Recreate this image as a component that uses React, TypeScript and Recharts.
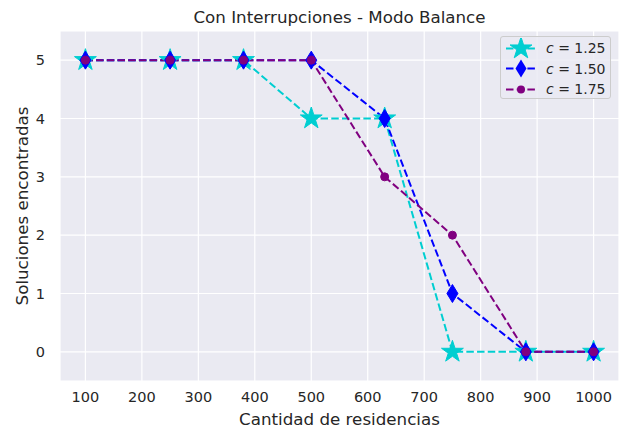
import React from 'react';
import { LineChart, Line, XAxis, YAxis, CartesianGrid } from 'recharts';

const residencias = [100, 250, 380, 500, 630, 750, 880, 1000];
const c125 = [5, 5, 5, 4, 4, 0, 0, 0];
const c150 = [5, 5, 5, 5, 4, 1, 0, 0];
const c175 = [5, 5, 5, 5, 3, 2, 0, 0];
const xTicks = [100, 200, 300, 400, 500, 600, 700, 800, 900, 1000];
const yTicks = [0, 1, 2, 3, 4, 5];

const CYAN = '#00CED1';
const BLUE = '#0000FF';
const PURPLE = '#800080';
const TEXT = '#262626';
const FONT = '"DejaVu Sans", sans-serif';
const DASH = '7.5 3.2';

const data = residencias.map((x, i) => ({ x, a: c125[i], b: c150[i], c: c175[i] }));

function starPath(cx: number, cy: number, R: number) {
  const r = R * 0.382;
  let d = '';
  for (let k = 0; k < 10; k++) {
    const ang = -Math.PI / 2 + (k * Math.PI) / 5;
    const rad = k % 2 === 0 ? R : r;
    d += (k === 0 ? 'M' : 'L') + (cx + rad * Math.cos(ang)).toFixed(2) + ',' + (cy + rad * Math.sin(ang)).toFixed(2);
  }
  return d + 'Z';
}

const diamondPath = (cx: number, cy: number) => `M${cx},${cy - 9}L${cx + 5.5},${cy}L${cx},${cy + 9}L${cx - 5.5},${cy}Z`;

const Star = (p: any) => (p.cx == null ? null : <path key={p.index} d={starPath(p.cx, p.cy, 11.5)} fill={CYAN} stroke={CYAN} strokeWidth={1} />);
const Diamond = (p: any) => (p.cx == null ? null : <path key={p.index} d={diamondPath(p.cx, p.cy)} fill={BLUE} stroke={BLUE} strokeWidth={1} />);
const Dot = (p: any) => (p.cx == null ? null : <circle key={p.index} cx={p.cx} cy={p.cy} r={4} fill={PURPLE} stroke={PURPLE} />);

const legendRows = [
  { label: '1.25', color: CYAN, marker: (cx: number, cy: number) => <path d={starPath(cx, cy, 11.5)} fill={CYAN} stroke={CYAN} /> },
  { label: '1.50', color: BLUE, marker: (cx: number, cy: number) => <path d={diamondPath(cx, cy)} fill={BLUE} /> },
  { label: '1.75', color: PURPLE, marker: (cx: number, cy: number) => <circle cx={cx} cy={cy} r={4} fill={PURPLE} /> },
];

function LegendBox() {
  return (
    <div style={styles.legend}>
      {legendRows.map(r => (
        <div key={r.label} style={styles.legendRow}>
          <svg width={32} height={21} style={{ display: 'block' }}>
            <line x1={1} y1={10.5} x2={31} y2={10.5} stroke={r.color} strokeWidth={2} strokeDasharray={DASH} />
            {r.marker(16, 10.5)}
          </svg>
          <span style={styles.legendText}>
            <i>c</i> = {r.label}
          </span>
        </div>
      ))}
    </div>
  );
}

export default function App() {
  return (
    <div style={styles.wrap}>
      <div style={styles.title}>Con Interrupciones - Modo Balance</div>
      <div style={styles.xLabel}>Cantidad de residencias</div>
      <div style={styles.yLabel}>Soluciones encontradas</div>
      <LineChart width={623} height={429} data={data} margin={{ top: 31, right: 4, bottom: 0, left: 0 }}>
        <CartesianGrid fill="#EAEAF2" stroke="#FFFFFF" strokeWidth={1.2} />
        <XAxis
          dataKey="x"
          type="number"
          domain={[55, 1045]}
          ticks={xTicks}
          axisLine={false}
          tickLine={false}
          tickSize={0}
          tickMargin={11}
          height={48}
          tick={{ fill: TEXT, fontSize: 14.5, fontFamily: FONT }}
        />
        <YAxis
          type="number"
          domain={[-0.5, 5.5]}
          ticks={yTicks}
          axisLine={false}
          tickLine={false}
          tickSize={0}
          tickMargin={15}
          width={60}
          tick={{ fill: TEXT, fontSize: 14.5, fontFamily: FONT }}
        />
        <Line dataKey="a" stroke={CYAN} strokeWidth={2} strokeDasharray={DASH} dot={Star} activeDot={false} isAnimationActive={false} />
        <Line dataKey="b" stroke={BLUE} strokeWidth={2} strokeDasharray={DASH} dot={Diamond} activeDot={false} isAnimationActive={false} />
        <Line dataKey="c" stroke={PURPLE} strokeWidth={2} strokeDasharray={DASH} dot={Dot} activeDot={false} isAnimationActive={false} />
      </LineChart>
      <LegendBox />
    </div>
  );
}

const styles: Record<string, React.CSSProperties> = {
  wrap: { position: 'absolute', left: 0, top: 0, width: 623, height: 429, background: '#fff', fontFamily: FONT },
  title: {
    position: 'absolute', top: 7, left: 60, width: 559, textAlign: 'center',
    fontSize: 16.7, color: TEXT, lineHeight: '20px', zIndex: 2,
  },
  xLabel: {
    position: 'absolute', top: 409, left: 60, width: 559, textAlign: 'center',
    fontSize: 16.7, color: TEXT, lineHeight: '20px', zIndex: 2,
  },
  yLabel: {
    position: 'absolute', left: 22, top: 206, width: 300, textAlign: 'center',
    transform: 'translate(-50%, -50%) rotate(-90deg)', fontSize: 16.7, color: TEXT, lineHeight: '20px', zIndex: 2,
  },
  legend: {
    position: 'absolute', left: 500, top: 36, width: 111, height: 63, boxSizing: 'border-box',
    background: 'rgba(234,234,242,0.8)', border: '1px solid #cccccc', borderRadius: 3,
    padding: '1px 0 0 4px', fontFamily: FONT, zIndex: 3,
  },
  legendRow: { display: 'flex', alignItems: 'center', height: 20.5 },
  legendText: { fontSize: 14, color: TEXT, marginLeft: 9, whiteSpace: 'nowrap' },
};
